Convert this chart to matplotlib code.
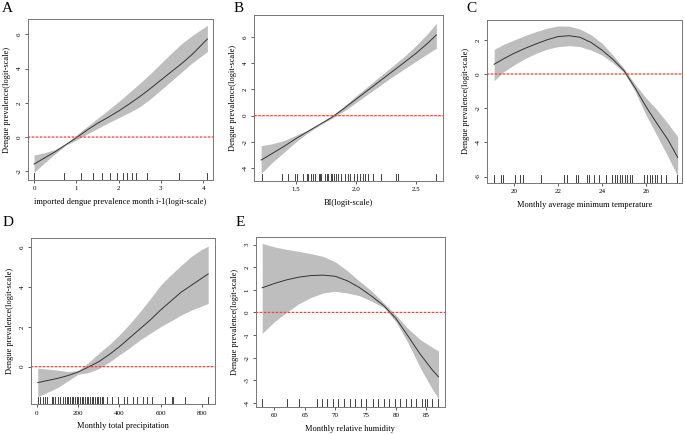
import matplotlib
matplotlib.use('Agg')
import matplotlib.pyplot as plt

plt.rcParams['font.family'] = ['Liberation Serif', 'DejaVu Serif']

ylab = "Dengue prevalence(logit-scale)"

# panel A: imported dengue prevalence
a_x = [0, 0.25, 0.5, 0.75, 1.0, 1.25, 1.5, 1.75, 2.0, 2.25, 2.5, 2.75,
       3.0, 3.25, 3.5, 3.75, 4.1]
a_fit = [-1.58, -1.22, -0.86, -0.45, -0.04, 0.4, 0.8, 1.15, 1.52, 1.93,
         2.36, 2.83, 3.33, 3.82, 4.31, 4.85, 5.73]
a_lo = [-2.07, -1.5, -0.98, -0.48, -0.18, 0.17, 0.5, 0.82, 1.13, 1.43,
        1.77, 2.23, 2.75, 3.28, 3.82, 4.35, 4.99]
a_hi = [-1.05, -0.92, -0.72, -0.4, 0.12, 0.6, 1.09, 1.57, 2.07, 2.6,
        3.14, 3.7, 4.31, 4.9, 5.48, 5.95, 6.53]
a_rug = [0, 0.71, 1.10, 1.40, 1.61, 1.79, 1.97, 2.10, 2.21, 2.31, 2.40,
         2.66, 3.42, 4.08]

# panel B: BI
b_x = [1.21, 1.3, 1.4, 1.5, 1.6, 1.7, 1.8, 1.9, 2.0, 2.1, 2.2, 2.3, 2.4,
       2.5, 2.6, 2.67]
b_fit = [-3.39, -2.9, -2.35, -1.75, -1.2, -0.66, -0.12, 0.55, 1.25, 1.95,
         2.65, 3.35, 4.05, 4.76, 5.55, 6.17]
b_lo = [-4.41, -3.6, -2.8, -2.0, -1.3, -0.72, -0.2, 0.35, 1.0, 1.65, 2.3,
        2.95, 3.55, 4.15, 4.75, 5.15]
b_hi = [-2.29, -2.15, -1.9, -1.5, -1.1, -0.6, -0.02, 0.72, 1.5, 2.25,
        3.0, 3.75, 4.5, 5.35, 6.3, 7.06]
b_rug = [1.214, 1.38, 1.436, 1.49, 1.51, 1.56, 1.59, 1.60, 1.625, 1.64,
         1.66, 1.69, 1.70, 1.71, 1.74, 1.76, 1.77, 1.79, 1.80, 1.82, 1.83,
         1.85, 1.875, 1.91, 1.93, 1.95, 1.98, 2.01, 2.03, 2.06, 2.075,
         2.10, 2.14, 2.21, 2.33, 2.35, 2.67]

# panel C: monthly average minimum temperature
c_x = [19.1, 19.5, 20, 20.5, 21, 21.5, 22, 22.5, 23, 23.5, 24, 24.5, 25,
       25.5, 26, 26.5, 27, 27.44]
c_fit = [0.57, 0.87, 1.21, 1.5, 1.76, 2.0, 2.19, 2.24, 2.15, 1.85, 1.4,
         0.85, 0.2, -0.8, -1.91, -2.9, -3.85, -4.88]
c_lo = [-0.39, 0.1, 0.53, 0.9, 1.21, 1.45, 1.6, 1.66, 1.6, 1.4, 1.11,
        0.65, 0.08, -1.0, -2.4, -3.6, -4.84, -5.97]
c_hi = [1.44, 1.72, 1.99, 2.25, 2.48, 2.68, 2.81, 2.8, 2.63, 2.3, 1.8,
        1.1, 0.33, -0.6, -1.4, -2.1, -2.9, -3.67]
c_rug = [19.09, 19.39, 19.52, 20.05, 20.27, 20.39, 21.21, 22.27, 22.39,
         22.83, 22.92, 23.30, 23.41, 23.64, 23.88, 24.17, 24.47, 24.59,
         24.70, 24.82, 24.92, 25.05, 25.15, 25.27, 25.38, 25.91, 26.03,
         26.18, 26.29, 26.39, 26.52, 26.67, 26.92, 27.42]

# panel D: monthly total precipitation
d_x = [5, 50, 100, 150, 200, 250, 300, 350, 400, 450, 500, 550, 600, 650,
       700, 750, 800, 830]
d_fit = [-0.80, -0.7, -0.59, -0.45, -0.27, -0.02, 0.25, 0.6, 1.0, 1.45,
         1.9, 2.35, 2.85, 3.3, 3.75, 4.1, 4.45, 4.66]
d_lo = [-1.51, -1.3, -1.06, -0.72, -0.38, -0.3, -0.1, 0.22, 0.59, 0.95,
        1.34, 1.68, 2.01, 2.3, 2.6, 2.85, 3.05, 3.18]
d_hi = [-0.08, -0.12, -0.17, -0.25, -0.2, 0.2, 0.67, 1.1, 1.59, 2.15,
        2.76, 3.42, 4.1, 4.62, 5.1, 5.55, 5.9, 6.06]
d_rug = [8, 16, 32, 40, 48, 73, 81, 89, 105, 113, 129, 137, 145, 153, 161,
         169, 177, 185, 194, 202, 210, 218, 226, 234, 242, 250, 258, 266,
         274, 282, 290, 298, 306, 315, 323, 339, 363, 395, 424, 439, 468,
         484, 516, 532, 556, 621, 653, 661, 719, 831]

# panel E: monthly relative humidity
e_x = [58, 60, 62, 64, 66, 68, 70, 72, 74, 76, 78, 80, 82, 84, 86, 87]
e_fit = [1.09, 1.28, 1.44, 1.56, 1.63, 1.65, 1.6, 1.4, 1.1, 0.72, 0.3,
         -0.27, -1.05, -1.85, -2.55, -2.85]
e_lo = [-0.93, -0.41, 0.0, 0.38, 0.66, 0.86, 0.94, 0.86, 0.74, 0.5, 0.22,
        -0.41, -1.35, -2.45, -3.4, -3.81]
e_hi = [3.05, 2.9, 2.79, 2.7, 2.6, 2.48, 2.24, 1.85, 1.38, 0.95, 0.42,
        -0.12, -0.72, -1.2, -1.55, -1.71]
e_rug = [58.0, 62.0, 64.0, 67.0, 67.8, 68.7, 69.6, 70.5, 71.5, 72.4, 73.3,
         74.2, 75.1, 76.2, 77.0, 78.0, 78.9, 79.8, 80.7, 81.6, 82.5, 83.3,
         84.3, 84.8, 85.1, 85.9, 86.9]

W, H = 685.0, 434.0


def make_ax(fig, l, r, t, b):
    return fig.add_axes([l / W, 1 - b / H, (r - l) / W, (b - t) / H])


def panel(ax, x, fit, lo, hi, rug, xlim, ylim, xticks, xtl, yticks,
          xlabel):
    ax.fill_between(x, lo, hi, color='#bebebe', lw=0)
    ax.plot(x, fit, color='#333333', lw=0.7)
    # zero reference line, drawn as a plain line across the x range
    ax.plot(xlim, [0, 0], color='#ff3b3b', ls=(0, (2, 1.2)), lw=0.9,
            snap=False, zorder=3)
    for v in rug:
        ax.axvline(v, ymin=0, ymax=0.045, color='#222222', lw=0.6)
    ax.set_xlim(xlim)
    ax.set_ylim(ylim)
    ax.set_xticks(xticks)
    ax.set_xticklabels(xtl)
    ax.set_yticks(yticks)
    ax.set_yticklabels([str(v) for v in yticks], rotation=90, va='center')
    ax.tick_params(labelsize=5, length=2.5, width=0.6, pad=2,
                   color='#444444')
    for s in ax.spines.values():
        s.set_color('#777777')
        s.set_linewidth(0.7)
    ax.set_xlabel(xlabel, fontsize=6, labelpad=5)
    ax.set_ylabel(ylab, fontsize=6, labelpad=4)


fig = plt.figure(figsize=(6.85, 4.34), dpi=100)

ax = make_ax(fig, 27.7, 213.3, 19.3, 180)
panel(ax, a_x, a_fit, a_lo, a_hi, a_rug, (-0.15, 4.24), (-2.51, 6.88),
      [0, 1, 2, 3, 4], ['0', '1', '2', '3', '4'], [-2, 0, 2, 4, 6],
      "imported dengue prevalence month i-1(logit-scale)")

ax = make_ax(fig, 254.3, 443.3, 15, 181)
panel(ax, b_x, b_fit, b_lo, b_hi, b_rug, (1.153, 2.728), (-4.99, 7.69),
      [1.5, 2.0, 2.5], ['1.5', '2.0', '2.5'], [-4, -2, 0, 2, 4, 6],
      "BI(logit-scale)")

ax = make_ax(fig, 486.7, 682.3, 20, 182.7)
panel(ax, c_x, c_fit, c_lo, c_hi, c_rug, (18.76, 27.65), (-6.36, 3.16),
      [20, 22, 24, 26], ['20', '22', '24', '26'], [-6, -4, -2, 0, 2],
      "Monthly average minimum temperature")

ax = make_ax(fig, 30.7, 215, 238.3, 404.3)
panel(ax, d_x, d_fit, d_lo, d_hi, d_rug, (-29, 863), (-1.89, 6.45),
      [0, 200, 400, 600, 800], ['0', '200', '400', '600', '800'],
      [0, 2, 4, 6], "Monthly total precipitation")

ax = make_ax(fig, 255.7, 445, 236.7, 406.7)
panel(ax, e_x, e_fit, e_lo, e_hi, e_rug, (56.93, 88.07), (-4.17, 3.35),
      [60, 65, 70, 75, 80, 85], ['60', '65', '70', '75', '80', '85'],
      [-4, -3, -2, -1, 0, 1, 2, 3], "Monthly relative humidity")

# panel letters, placed in figure pixels
for letter, px, py in [("A", 2, 2), ("B", 234, 2), ("C", 466, 2),
                       ("D", 3, 216), ("E", 236, 216)]:
    fig.text(px / W, 1 - py / H, letter, fontsize=11, ha='left', va='top')

fig.savefig('out.png', dpi=100)
